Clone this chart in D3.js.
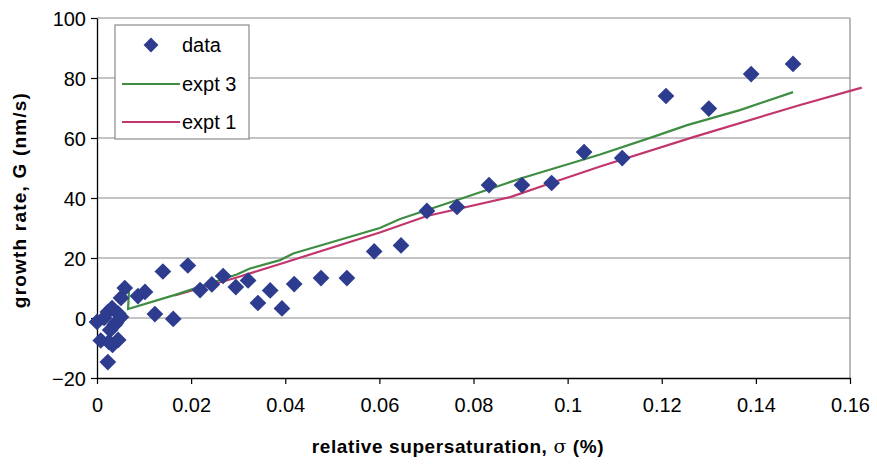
<!DOCTYPE html>
<html>
<head>
<meta charset="utf-8">
<script src="https://cdn.jsdelivr.net/npm/d3@7"></script>
<style>
  body { margin: 0; background: #fff; }
  text { font-family: Arial, "Liberation Sans", sans-serif; }
</style>
</head>
<body>
<svg id="chart" width="877" height="466"></svg>
<script>
// data
var sigma = [0, 0.0008, 0.0015, 0.0023, 0.0023, 0.0025, 0.0028, 0.0032, 0.0033, 0.0037, 0.004, 0.0045,
  0.0045, 0.0051, 0.0051, 0.0059, 0.0087, 0.0102, 0.0123, 0.014, 0.0162, 0.0193, 0.0219,
  0.0244, 0.0268, 0.0295, 0.0321, 0.0342, 0.0368, 0.0393, 0.0419, 0.0476, 0.0531, 0.0589, 0.0646,
  0.0701, 0.0765, 0.0833, 0.0903, 0.0966, 0.1035, 0.1116, 0.1209, 0.130, 0.139, 0.1479];
var growth = [-1.3, -7.5, 0, 2, -14.7, -8, -4, 3.3, -9, -2.3, -1.7, -7.3,
  1.5, 6.7, 0.3, 10, 7.3, 8.7, 1.3, 15.5, -0.3, 17.5, 9.3,
  11.2, 14, 10.3, 12.5, 5, 9.2, 3.2, 11.3, 13.3, 13.3, 22.2, 24.2,
  35.7, 37, 44.3, 44.3, 45, 55.3, 53.3, 74, 69.8, 81.3, 84.7];

var expt3Sigma = [0.0068, 0.0066, 0.0166, 0.0297, 0.0325, 0.0389, 0.0417, 0.0601, 0.0644, 0.0778, 0.09, 0.1069, 0.118, 0.1254, 0.1366, 0.1479];
var expt3G = [9.5, 3, 7.7, 14.5, 16.5, 19.3, 21.5, 30, 33, 40, 46.5, 54.5, 60.3, 64.3, 69.3, 75.3];

var expt1Sigma = [0.0165, 0.0297, 0.0389, 0.0601, 0.0701, 0.0878, 0.0965, 0.1069, 0.1267, 0.1494, 0.1625];
var expt1G = [7.5, 13.5, 18, 28.5, 34, 40.3, 45, 50.5, 60.3, 71, 76.8];

var xTicks = [0, 0.02, 0.04, 0.06, 0.08, 0.1, 0.12, 0.14, 0.16];
var yTicks = [-20, 0, 20, 40, 60, 80, 100];
var legendNames = ["data", "expt 3", "expt 1"];

var svg = d3.select("#chart");
var plotL = 97, plotR = 850, plotT = 18, plotB = 378;

var x = d3.scaleLinear().domain([0, 0.16]).range([plotL, plotR]);
var y = d3.scaleLinear().domain([-20, 100]).range([plotB, plotT]);

// gridlines
svg.append("g").selectAll("line")
  .data(yTicks.filter(function(d){ return d > -20; }))
  .enter().append("line")
  .attr("x1", plotL).attr("x2", plotR)
  .attr("y1", function(d){ return y(d); })
  .attr("y2", function(d){ return y(d); })
  .attr("stroke", "#8a8a8a").attr("stroke-width", 1.2);

// right frame
svg.append("line")
  .attr("x1", plotR).attr("x2", plotR).attr("y1", plotT).attr("y2", plotB)
  .attr("stroke", "#8a8a8a").attr("stroke-width", 1.2);

// axes
var xAxis = svg.append("g")
  .attr("transform", "translate(0," + plotB + ")")
  .call(d3.axisBottom(x).tickValues(xTicks).tickSize(6).tickSizeOuter(0)
    .tickFormat(function(d){ return String(+d.toFixed(2)); }));
var yAxis = svg.append("g")
  .attr("transform", "translate(" + plotL + ",0)")
  .call(d3.axisLeft(y).tickValues(yTicks).tickSize(6).tickSizeOuter(0));

[xAxis, yAxis].forEach(function(a){
  a.select(".domain").attr("stroke", "#000").attr("stroke-width", 1.3);
  a.selectAll(".tick line").attr("stroke", "#000").attr("stroke-width", 1.2);
  a.selectAll(".tick text").attr("fill", "#000").attr("font-size", 20)
    .attr("font-family", "Arial, 'Liberation Sans', sans-serif");
});
xAxis.selectAll(".tick text").attr("y", 20).attr("dy", "0.71em");
yAxis.selectAll(".tick text").attr("x", -11).attr("dy", "0.35em");

// lines
var line = d3.line()
  .x(function(d){ return x(d[0]); })
  .y(function(d){ return y(d[1]); });

svg.append("path")
  .datum(expt1Sigma.map(function(s, i){ return [s, expt1G[i]]; }))
  .attr("d", line).attr("fill", "none")
  .attr("stroke", "#c2366e").attr("stroke-width", 2.2);

svg.append("path")
  .datum(expt3Sigma.map(function(s, i){ return [s, expt3G[i]]; }))
  .attr("d", line).attr("fill", "none")
  .attr("stroke", "#3f8c43").attr("stroke-width", 2.2);

// data points
var diamond = d3.symbol().type(d3.symbolSquare).size(140);
svg.append("g").selectAll("path")
  .data(sigma.map(function(s, i){ return [s, growth[i]]; }))
  .enter().append("path")
  .attr("d", diamond)
  .attr("transform", function(d){ return "translate(" + x(d[0]) + "," + y(d[1]) + ") rotate(45)"; })
  .attr("fill", "#2d3c8e");

// legend
var lg = svg.append("g");
lg.append("rect")
  .attr("x", 115).attr("y", 25).attr("width", 134).attr("height", 114)
  .attr("fill", "#fff").attr("stroke", "#8a8a8a").attr("stroke-width", 1.2);
var rows = [45, 84, 122];
lg.append("path")
  .attr("d", d3.symbol().type(d3.symbolSquare).size(110))
  .attr("transform", "translate(151," + rows[0] + ") rotate(45)")
  .attr("fill", "#2d3c8e");
lg.append("line").attr("x1", 122).attr("x2", 180).attr("y1", rows[1]).attr("y2", rows[1])
  .attr("stroke", "#3f8c43").attr("stroke-width", 2);
lg.append("line").attr("x1", 122).attr("x2", 180).attr("y1", rows[2]).attr("y2", rows[2])
  .attr("stroke", "#c2366e").attr("stroke-width", 2);
lg.selectAll("text.lab")
  .data(legendNames)
  .enter().append("text")
  .attr("class", "lab")
  .attr("x", 182)
  .attr("y", function(d, i){ return rows[i]; })
  .attr("dy", "0.35em")
  .attr("font-size", 20)
  .text(function(d){ return d; });

// axis titles
svg.append("text")
  .attr("transform", "translate(26," + 200 + ") rotate(-90)")
  .attr("text-anchor", "middle")
  .attr("font-size", 19).attr("font-weight", "bold")
  .attr("letter-spacing", 1.2)
  .text("growth rate, G (nm/s)");

var xt = svg.append("text")
  .attr("x", 458).attr("y", 453)
  .attr("text-anchor", "middle")
  .attr("font-size", 19).attr("font-weight", "bold")
  .attr("letter-spacing", 0.6);
xt.append("tspan").text("relative supersaturation, ");
xt.append("tspan").attr("font-weight", "normal").attr("font-family", "'DejaVu Serif', serif").text("σ");
xt.append("tspan").text(" (%)");
</script>
</body>
</html>
